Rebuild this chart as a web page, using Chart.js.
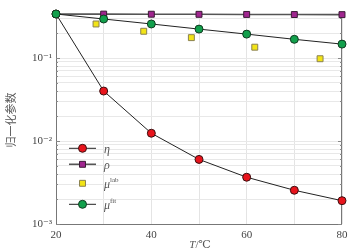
<!DOCTYPE html>
<html><head><meta charset="utf-8">
<script src="https://cdn.jsdelivr.net/npm/chart.js@4"></script>
<style>html,body{margin:0;padding:0;background:#fff}#wrap{width:359px;height:252px;position:relative}</style>
</head><body><div id="wrap"><canvas id="c" width="359" height="252"></canvas></div>
<script>
const temps = [20, 30, 40, 50, 60, 70, 80];
const eta = [0.339, 0.040, 0.0124, 0.0060, 0.00366, 0.00255, 0.00191];
const rho = [0.339, 0.338, 0.337, 0.336, 0.335, 0.334, 0.333];
const muFit = [0.339, 0.295, 0.257, 0.223, 0.194, 0.168, 0.147];
const labTemps = [28.4, 38.4, 48.4, 61.7, 75.4];
const muLab = [0.257, 0.210, 0.176, 0.135, 0.098];
const xTickLabels = [20, 40, 60, 80];
const yMajor = [0.001, 0.01, 0.1];
const yLabels = ['10⁻³', '10⁻²', '10⁻¹'];

const pts = (xs, ys) => xs.map((x, i) => ({x, y: ys[i]}));
const serif = '"Liberation Serif","DejaVu Serif",serif';

const frame = {
  id: 'frame',
  beforeDatasetsDraw(chart) {
    const {ctx, chartArea: a, scales} = chart;
    ctx.save();
    ctx.strokeStyle = '#777';
    ctx.lineWidth = 1;
    ctx.strokeRect(a.left + 0.5, a.top + 0.5, a.right - a.left - 1, a.bottom - a.top);
    const y = scales.y;
    ctx.strokeStyle = '#888';
    y.ticks.forEach(t => {
      const p = Math.round(y.getPixelForValue(t.value)) + 0.5;
      const major = yMajor.includes(t.value);
      const L = major ? 4 : 2;
      ctx.beginPath();
      ctx.moveTo(a.left, p); ctx.lineTo(a.left + L, p);
      ctx.moveTo(a.right, p); ctx.lineTo(a.right - L, p);
      ctx.stroke();
    });
    ctx.restore();
  },
  afterDraw(chart) {
    const {ctx} = chart;
    ctx.save();
    const rows = [
      {key: 'η', y: 148.3, name: 'η', sup: ''},
      {key: 'ρ', y: 164.3, name: 'ρ', sup: ''},
      {key: 'μlab', y: 183.3, name: 'μ', sup: 'lab'},
      {key: 'μfit', y: 204.3, name: 'μ', sup: 'fit'}
    ];
    rows.forEach(r => {
      const d = chart.data.datasets.find(s => s.label === r.key);
      if (d.showLine !== false) {
        ctx.strokeStyle = d.borderColor; ctx.lineWidth = d.borderWidth;
        ctx.beginPath(); ctx.moveTo(69, r.y); ctx.lineTo(96, r.y); ctx.stroke();
      }
      ctx.fillStyle = d.pointBackgroundColor;
      ctx.strokeStyle = d.pointBorderColor;
      ctx.lineWidth = d.pointBorderWidth;
      ctx.beginPath();
      if (d.pointStyle === 'circle') ctx.arc(82.5, r.y, d.pointRadius, 0, Math.PI * 2);
      else { const s = d.pointRadius * Math.SQRT1_2; ctx.rect(82.5 - s, r.y - s, 2 * s, 2 * s); }
      ctx.fill(); ctx.stroke();
      ctx.fillStyle = '#555';
      ctx.textBaseline = 'middle';
      ctx.font = 'italic 12px ' + serif;
      ctx.fillText(r.name, 104, r.y + 2);
      if (r.sup) {
        const w = ctx.measureText(r.name).width;
        ctx.font = '7px ' + serif;
        ctx.fillText(r.sup, 104 + w, r.y - 3);
      }
    });
    ctx.fillStyle = '#555';
    ctx.textBaseline = 'middle';
    ctx.font = 'italic 11px ' + serif;
    const tw = ctx.measureText('T').width;
    ctx.font = '11px ' + serif;
    const rw = ctx.measureText('/℃').width;
    const cx = 200 - (tw + rw) / 2;
    ctx.textAlign = 'left';
    ctx.font = 'italic 11px ' + serif;
    ctx.fillText('T', cx, 245);
    ctx.font = '11px ' + serif;
    ctx.fillText('/℃', cx + tw, 245);
    ctx.translate(11, 120);
    ctx.rotate(-Math.PI / 2);
    ctx.textAlign = 'center';
    ctx.font = '11px "Noto Sans CJK SC", sans-serif';
    ctx.fillText('归一化参数', 0, 0);
    ctx.restore();
  }
};

const mk = (label, data, color, style, line, border) => ({
  label, data,
  borderColor: line ? '#222' : 'transparent',
  borderWidth: 1,
  showLine: line,
  pointStyle: style,
  pointRadius: style === 'circle' ? 4 : 4.2,
  pointHoverRadius: 4,
  pointBackgroundColor: color,
  pointBorderColor: border,
  pointBorderWidth: 1,
  clip: false,
  tension: 0
});

new Chart(document.getElementById('c'), {
  type: 'scatter',
  data: {
    datasets: [
      mk('μfit', pts(temps, muFit), '#12a04c', 'circle', true, '#103a20'),
      mk('μlab', pts(labTemps, muLab), '#f2e416', 'rect', false, '#8a8050'),
      Object.assign(mk('ρ', pts(temps, rho), '#a0258f', 'rect', true, '#3a1a35'), {borderColor: '#555', borderWidth: 1.6}),
      mk('η', pts(temps, eta), '#e8141c', 'circle', true, '#3a1010')
    ]
  },
  options: {
    responsive: false,
    animation: false,
    events: [],
    layout: {padding: {top: 14, right: 17, left: 0, bottom: 0}},
    plugins: {legend: {display: false}, tooltip: {enabled: false}},
    scales: {
      x: {
        type: 'linear', min: 20, max: 80,
        border: {display: false},
        ticks: {stepSize: 10, autoSkip: false, maxRotation: 0, padding: 5, color: '#444',
          font: {family: serif, size: 11},
          callback: v => xTickLabels.includes(v) ? String(v) : ''},
        grid: {color: '#e4e4e4', lineWidth: 1, drawTicks: false},
        afterFit: s => { s.height = 28; }
      },
      y: {
        type: 'logarithmic', min: 0.001, max: 0.339,
        border: {display: false},
        afterBuildTicks: s => {
          const t = [];
          [0.001, 0.01, 0.1].forEach(b => { for (let k = 1; k <= 9; k++) { const v = +(b * k).toPrecision(3); if (v <= 0.339) t.push({value: v}); } });
          s.ticks = t;
        },
        ticks: {autoSkip: false, padding: 4, color: '#444', font: {family: serif, size: 11},
          callback: v => { const i = yMajor.indexOf(v); return i >= 0 ? yLabels[i] : ''; }},
        grid: {color: '#e8e8e8', lineWidth: 1, drawTicks: false},
        afterFit: s => { s.width = 56; }
      }
    }
  },
  plugins: [frame]
});
</script></body></html>
